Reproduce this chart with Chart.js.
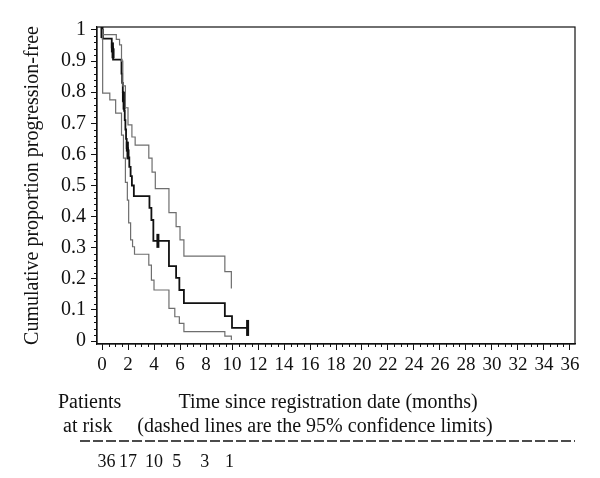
<!DOCTYPE html>
<html>
<head>
<meta charset="utf-8">
<script src="https://cdn.jsdelivr.net/npm/chart.js@4.4.1/dist/chart.umd.min.js"></script>
<style>
  html, body { margin: 0; padding: 0; background: #fff; }
  canvas { display: block; }
</style>
</head>
<body>
<canvas id="kmChart" width="600" height="478"></canvas>
<script>
// Kaplan-Meier estimate (step drops at each time)
const kmTime = [0, 0.05, 0.75, 0.85, 1.5, 1.55, 1.6, 1.65, 1.7, 1.75, 1.8, 1.85, 1.9, 2.0, 2.1, 2.2, 2.3, 2.45, 3.65, 3.8, 3.95, 5.15, 5.7, 5.95, 6.3, 9.45, 10.0, 11.2];
const kmSurv = [1, 0.972, 0.944, 0.905, 0.86, 0.83, 0.80, 0.77, 0.74, 0.71, 0.68, 0.65, 0.62, 0.59, 0.56, 0.53, 0.50, 0.466, 0.428, 0.389, 0.322, 0.241, 0.203, 0.164, 0.122, 0.080, 0.042, 0.042];

// 95% confidence limits
const upTime = [0, 0.05, 1.1, 1.35, 1.5, 1.6, 1.8, 2.0, 2.3, 2.55, 3.6, 3.85, 4.1, 5.15, 5.7, 6.0, 6.3, 9.45, 9.95];
const upSurv = [1, 0.985, 0.97, 0.952, 0.90, 0.82, 0.75, 0.695, 0.656, 0.63, 0.588, 0.543, 0.49, 0.413, 0.368, 0.325, 0.273, 0.223, 0.169];
const loTime = [0, 0.05, 0.6, 1.05, 1.5, 1.65, 1.8, 1.95, 2.05, 2.2, 2.35, 2.5, 3.6, 3.8, 4.0, 5.15, 5.6, 5.95, 6.3, 9.45, 9.95];
const loSurv = [1, 0.797, 0.775, 0.733, 0.662, 0.588, 0.51, 0.453, 0.38, 0.325, 0.303, 0.279, 0.244, 0.196, 0.164, 0.105, 0.078, 0.057, 0.03, 0.016, 0.003];

// censored observations
const censorTime = [0, 0.8, 0.85, 1.65, 1.7, 1.95, 2.0, 4.3, 11.2];
const censorSurv = [1, 0.944, 0.925, 0.785, 0.76, 0.625, 0.60, 0.322, 0.042];

// axis ticks
const xTicks = [0, 2, 4, 6, 8, 10, 12, 14, 16, 18, 20, 22, 24, 26, 28, 30, 32, 34, 36];
const yTicks = [0, 0.1, 0.2, 0.3, 0.4, 0.5, 0.6, 0.7, 0.8, 0.9, 1];

// patients at risk row
const riskTime = [0.35, 2.0, 4.0, 5.75, 7.9, 9.8];
const riskCount = [36, 17, 10, 5, 3, 1];

const FONT = '"Liberation Serif", "DejaVu Serif", serif';

function toPoints(xs, ys) {
    return xs.map((x, i) => ({ x: x, y: ys[i] }));
}

// Draws frame, minor ticks, axis titles and the at-risk table
const kmExtras = {
    id: 'kmExtras',
    afterDraw(chart) {
        const c = chart.ctx;
        const area = chart.chartArea;
        const xs = chart.scales.x;
        const ys = chart.scales.y;
        c.save();
        c.strokeStyle = '#111';
        c.fillStyle = '#111';
        c.lineWidth = 1.2;
        c.strokeRect(area.left, area.top, area.right - area.left, area.bottom - area.top);

        // minor ticks
        c.lineWidth = 1;
        c.beginPath();
        for (let i = 1; i < 50; i++) {
            if (i % 5 === 0) continue;
            const py = Math.round(ys.getPixelForValue(i * 0.02)) + 0.5;
            c.moveTo(area.left - 3, py);
            c.lineTo(area.left, py);
        }
        for (let i = 1; i < 72; i++) {
            if (i % 4 === 0) continue;
            const px = Math.round(xs.getPixelForValue(i * 0.5)) + 0.5;
            c.moveTo(px, area.bottom);
            c.lineTo(px, area.bottom + 3);
        }
        c.stroke();

        c.font = '20px ' + FONT;
        c.textBaseline = 'middle';

        // y title
        c.save();
        c.translate(33, (area.top + area.bottom) / 2);
        c.rotate(-Math.PI / 2);
        c.textAlign = 'center';
        c.fillText('Cumulative proportion progression-free', 0, 0);
        c.restore();

        // x title (two lines)
        c.textAlign = 'center';
        c.fillText('Time since registration date (months)', 328, 403);
        c.fillText('(dashed lines are the 95% confidence limits)', 315, 427);

        c.textAlign = 'left';
        c.fillText('Patients', 58, 403);
        c.fillText('at risk', 63, 427);

        // dashed rule
        c.setLineDash([10, 3]);
        c.lineWidth = 1.5;
        c.beginPath();
        c.moveTo(80, 441);
        c.lineTo(575, 441);
        c.stroke();
        c.setLineDash([]);

        c.font = '18px ' + FONT;
        c.textAlign = 'center';
        riskTime.forEach((t, i) => {
            c.fillText(String(riskCount[i]), xs.getPixelForValue(t), 462);
        });
        c.restore();
    }
};

const ctx = document.getElementById('kmChart').getContext('2d');

new Chart(ctx, {
    type: 'line',
    data: {
        datasets: [
            {
                label: 'Upper limit',
                data: toPoints(upTime, upSurv),
                borderColor: '#6e6e6e',
                borderWidth: 1.2,
                stepped: 'before',
                pointRadius: 0
            },
            {
                label: 'Lower limit',
                data: toPoints(loTime, loSurv),
                borderColor: '#6e6e6e',
                borderWidth: 1.2,
                stepped: 'before',
                pointRadius: 0
            },
            {
                label: 'Estimate',
                data: toPoints(kmTime, kmSurv),
                borderColor: '#111',
                borderWidth: 1.8,
                stepped: 'before',
                pointRadius: 0
            },
            {
                label: 'Censored',
                data: toPoints(censorTime, censorSurv),
                showLine: false,
                pointStyle: 'line',
                rotation: 90,
                pointRadius: [8, 5, 5, 5, 5, 5, 5, 7, 8],
                pointBorderWidth: 3,
                borderColor: '#111',
                backgroundColor: '#111'
            }
        ]
    },
    options: {
        responsive: false,
        animation: false,
        devicePixelRatio: 1,
        layout: { padding: { top: 27, right: 25, left: 0, bottom: 0 } },
        plugins: {
            legend: { display: false },
            tooltip: { enabled: false }
        },
        scales: {
            x: {
                type: 'linear',
                min: -0.385,
                max: 36.385,
                afterBuildTicks: s => { s.ticks = xTicks.map(v => ({ value: v })); },
                afterFit: s => { s.height = 134; },
                ticks: {
                    color: '#111',
                    font: { family: FONT, size: 19 },
                    padding: 4,
                    maxRotation: 0,
                    autoSkip: false
                },
                grid: { drawOnChartArea: false, tickLength: 6, color: '#111' },
                border: { display: true, color: '#111', width: 1.2 }
            },
            y: {
                type: 'linear',
                min: -0.0096,
                max: 1.0096,
                afterBuildTicks: s => { s.ticks = yTicks.map(v => ({ value: v })); },
                afterFit: s => { s.width = 97; },
                ticks: {
                    color: '#111',
                    font: { family: FONT, size: 20 },
                    padding: 5,
                    callback: v => String(v)
                },
                grid: { drawOnChartArea: false, tickLength: 6, color: '#111' },
                border: { display: true, color: '#111', width: 1.2 }
            }
        }
    },
    plugins: [kmExtras]
});
</script>
</body>
</html>
